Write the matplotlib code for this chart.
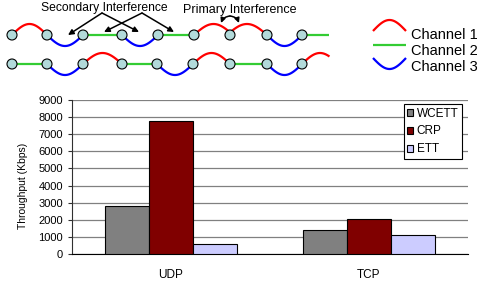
import numpy as np
import matplotlib
matplotlib.use('Agg')
import matplotlib.pyplot as plt
from matplotlib.patches import Circle

plt.rcParams['font.family'] = ['Liberation Sans', 'DejaVu Sans']

# bar chart data
groups = ['UDP', 'TCP']
metrics = ['WCETT', 'CRP', 'ETT']
wcett = [2800, 1400]
crp = [7800, 2050]
ett = [600, 1100]
bar_colors = ['#808080', '#800000', '#ccccff']

# diagram: node x positions (pixels) and channel of each link
row1_nodes = [12, 47, 83, 122, 158, 194, 230, 267, 302]
row1_links = [1, 3, 2, 3, 2, 1, 1, 3, 2]
row2_nodes = [12, 47, 83, 122, 157, 193, 230, 267, 302]
row2_links = [2, 3, 1, 2, 3, 1, 2, 3, 1]
row_y = [35, 64]
chan_colors = {1: '#ff0000', 2: '#33cc33', 3: '#0000ff'}
chan_names = ['Channel 1', 'Channel 2', 'Channel 3']

fig = plt.figure(figsize=(4.78, 2.81), dpi=100)

# ---- bar chart ----
ax = fig.add_axes([72 / 478, 27 / 281, 396 / 478, 154 / 281])
x = np.arange(len(groups))
w = 0.222
for i, (vals, name) in enumerate(zip([wcett, crp, ett], metrics)):
    ax.bar(x + (i - 1) * w, vals, w, color=bar_colors[i], edgecolor='black',
           linewidth=0.8, label=name, zorder=3)
ax.set_xlim(-0.5, 1.5)
ax.set_ylim(0, 9000)
ax.set_yticks(range(0, 9001, 1000))
ax.set_xticks(x)
ax.set_xticklabels(groups)
ax.yaxis.grid(True, color='#808080', linewidth=0.9, zorder=0)
ax.set_axisbelow(True)
for s in ['top', 'right']:
    ax.spines[s].set_visible(False)
ax.spines['left'].set_color('#303030')
ax.spines['bottom'].set_color('black')
ax.tick_params(axis='y', labelsize=8, length=3, width=0.8, pad=3.5, color='#303030')
ax.tick_params(axis='x', labelsize=8.5, length=0, pad=11)
ax.set_ylabel('Throughput (Kbps)', fontsize=7.5)
ax.yaxis.set_label_coords(-0.111, 0.44)
leg = ax.legend(loc='upper right', bbox_to_anchor=(462 / 478, 1 - 104 / 281),
                bbox_transform=fig.transFigure, borderaxespad=0, fontsize=8.5,
                handlelength=0.5, handleheight=0.5, handletextpad=0.3,
                labelspacing=0.5, borderpad=0.3, fancybox=False, framealpha=1)
leg.get_frame().set_edgecolor('black')
leg.get_frame().set_linewidth(0.8)

# ---- diagram overlay (pixel coordinates) ----
d = fig.add_axes([0, 0, 1, 1])
d.set_xlim(0, 478)
d.set_ylim(281, 0)
d.axis('off')


def link(x0, x1, y0, ch, clip=None):
    t = np.linspace(0, 1, 60)
    xs = x0 + (x1 - x0) * t
    if ch == 1:
        ys = y0 - 11 * np.sin(np.pi * t)
    elif ch == 3:
        ys = y0 + 11 * np.sin(np.pi * t)
    else:
        ys = np.full_like(t, y0)
    if clip is not None:
        keep = xs <= clip
        xs, ys = xs[keep], ys[keep]
    d.plot(xs, ys, color=chan_colors[ch], lw=1.6, solid_capstyle='butt', zorder=2)


for nodes, links, y0 in [(row1_nodes, row1_links, row_y[0]), (row2_nodes, row2_links, row_y[1])]:
    ends = nodes[1:] + [nodes[-1] + 36]
    for i, ch in enumerate(links):
        a, b = nodes[i], ends[i]
        if ch == 1 and i > 0 and links[i - 1] == 1:
            a -= 3
        if ch == 1 and i + 1 < len(links) and links[i + 1] == 1:
            b += 3
        link(a, b, y0, ch, clip=330)
    for nx in nodes:
        d.add_patch(Circle((nx, y0), 5, facecolor='#b2dada', edgecolor='black', lw=0.8, zorder=4))

# interference annotations
d.text(104, 8, 'Secondary Interference', fontsize=8.7, ha='center', va='center')
d.text(240, 10, 'Primary Interference', fontsize=9, ha='center', va='center')
ap = dict(arrowstyle='-|>', color='black', lw=1.1, mutation_scale=8, shrinkA=0, shrinkB=0)
for (sx, sy), (ex, ey) in [((102, 13), (68, 35)), ((102, 13), (139, 32)),
                           ((142, 13), (104, 32)), ((142, 13), (174, 32))]:
    d.annotate('', xy=(ex, ey), xytext=(sx, sy), arrowprops=ap)
ap2 = dict(ap, mutation_scale=7, connectionstyle='arc3,rad=0.3')
d.annotate('', xy=(221, 23), xytext=(230, 16), arrowprops=ap2)
d.annotate('', xy=(239, 23), xytext=(230, 16), arrowprops=dict(ap2, connectionstyle='arc3,rad=-0.3'))

# channel legend
for k, (ch, yb) in enumerate([(1, 31), (2, 45), (3, 58)]):
    link(373, 406, yb, ch)
    d.text(411, [35, 51, 67][k], chan_names[k], fontsize=10.5, ha='left', va='center')

fig.savefig('out.png', dpi=100)
